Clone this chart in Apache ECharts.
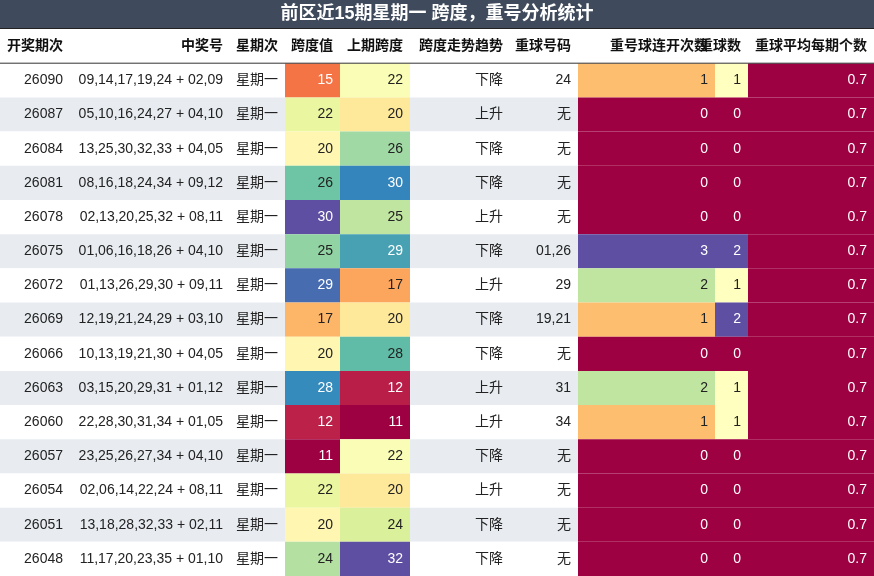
<!DOCTYPE html>
<html>
<head>
<meta charset="utf-8">
<script src="https://cdn.jsdelivr.net/npm/echarts@6/dist/echarts.min.js"></script>
<style>html,body{margin:0;padding:0;background:#fff}#main{width:874px;height:576px}</style>
</head>
<body>
<div id="main"></div>
<script>
// 表格数据
const headers = ['开奖期次','中奖号','星期次','跨度值','上期跨度','跨度走势趋势','重球号码','重号球连开次数','重球数','重球平均每期个数']
const periods = ['26090','26087','26084','26081','26078','26075','26072','26069','26066','26063','26060','26057','26054','26051','26048']
const numbers = ['09,14,17,19,24 + 02,09','05,10,16,24,27 + 04,10','13,25,30,32,33 + 04,05','08,16,18,24,34 + 09,12','02,13,20,25,32 + 08,11','01,06,16,18,26 + 04,10','01,13,26,29,30 + 09,11','12,19,21,24,29 + 03,10','10,13,19,21,30 + 04,05','03,15,20,29,31 + 01,12','22,28,30,31,34 + 01,05','23,25,26,27,34 + 04,10','02,06,14,22,24 + 08,11','13,18,28,32,33 + 02,11','11,17,20,23,35 + 01,10']
const weekdays = periods.map(() => '星期一')
const spans = [15,22,20,26,30,25,29,17,20,28,12,11,22,20,24]
const prevSpans = [22,20,26,30,25,29,17,20,28,12,11,22,20,24,32]
const trends = ['下降','上升','下降','下降','上升','下降','上升','下降','下降','上升','上升','下降','上升','下降','下降']
const repeatBalls = ['24','无','无','无','无','01,26','29','19,21','无','31','34','无','无','无','无']
const repeatStreak = [1,0,0,0,0,3,2,1,0,2,1,0,0,0,0]
const repeatCount = [1,0,0,0,0,2,1,2,0,1,1,0,0,0,0]
const avgCount = periods.map(() => 0.7)

// 列边界(像素)
const edges = [0,70,230,285,340,410,510,578,715,748,874]
const spectral = ['#9e0142','#d53e4f','#f46d43','#fdae61','#fee08b','#ffffbf','#e6f598','#abdda4','#66c2a5','#3288bd','#5e4fa2']
const font = '"Liberation Sans","Noto Sans CJK SC",sans-serif'

let series = []
let visualMaps = []

const makeCol = (c, texts, values, range, fmt) => {
  let idx = series.length
  let data = texts.map((t, i) => [i + 1, values ? values[i] : 0])
  if (range) {
    visualMaps.push({type:'continuous', show:false, seriesIndex:idx, dimension:1,
      min:range[0], max:range[1], inRange:{color:spectral}})
  }
  series.push({
    type:'custom', data:data, animation:false,
    renderItem: function(params, api){
      let r = api.value(0)
      let v = api.value(1)
      let p = api.coord([0, r])
      let h = api.size([0, 1])[1]
      let x0 = api.coord([edges[c], r])[0]
      let x1 = api.coord([edges[c+1], r])[0]
      let fill = (r % 2 === 0) ? '#e8ecf1' : '#ffffff'
      let tc = '#222'
      if (range) {
        fill = api.visual('color')
        let t = (v - range[0]) / (range[1] - range[0])
        if (t < 0.22 || t > 0.84) tc = '#fff'
      }
      let text = fmt ? fmt(v) : texts[params.dataIndex]
      return {type:'group', children:[
        {type:'rect', shape:{x:x0, y:p[1]-h/2, width:x1-x0, height:h}, style:{fill:fill}},
        {type:'text', style:{x:x1-7, y:p[1], text:text, fill:tc, align:'right', verticalAlign:'middle',
          font:'14px ' + font}}
      ]}
    }
  })
}

makeCol(0, periods)
makeCol(1, numbers)
makeCol(2, weekdays)
makeCol(3, spans, spans, [11,30], v => String(v))
makeCol(4, prevSpans, prevSpans, [11,32], v => String(v))
makeCol(5, trends)
makeCol(6, repeatBalls)
makeCol(7, repeatStreak, repeatStreak, [0,3], v => String(v))
makeCol(8, repeatCount, repeatCount, [0,2], v => String(v))
makeCol(9, avgCount, avgCount, [0.7,1], v => v.toFixed(1))

// 表头
series.push({
  type:'custom', data:headers.map((t, i) => [0, i]), animation:false,
  renderItem: function(params, api){
    let c = api.value(1)
    let p = api.coord([0, 0])
    let h = api.size([0, 1])[1]
    let x0 = api.coord([edges[c], 0])[0]
    let x1 = api.coord([edges[c+1], 0])[0]
    return {type:'group', children:[
      {type:'rect', shape:{x:x0, y:p[1]-h/2, width:x1-x0, height:h}, style:{fill:'#fff'}},
      {type:'line', shape:{x1:x0, y1:p[1]+h/2, x2:x1, y2:p[1]+h/2}, style:{stroke:'#333', lineWidth:1}},
      {type:'text', style:{x:x1-7, y:p[1], text:headers[c], fill:'#111', align:'right', verticalAlign:'middle',
        font:'bold 14px ' + font}}
    ]}
  }
})

let myChart = echarts.init(document.getElementById('main'))
myChart.setOption({
  animation:false,
  grid:{left:0, right:0, top:29, bottom:0},
  xAxis:{type:'value', min:0, max:874, show:false},
  yAxis:{type:'category', data:['表头'].concat(periods), inverse:true, show:false},
  visualMap: visualMaps,
  graphic:{elements:[
    {type:'rect', left:0, top:0, shape:{width:874, height:28}, style:{fill:'#3f4b5c'}},
    {type:'rect', left:0, top:28, shape:{width:874, height:1}, style:{fill:'#222'}},
    {type:'text', left:'center', top:5, style:{text:'前区近15期星期一 跨度，重号分析统计', fill:'#fff',
      font:'bold 18px ' + font}}
  ]},
  series: series
})
</script>
</body>
</html>
